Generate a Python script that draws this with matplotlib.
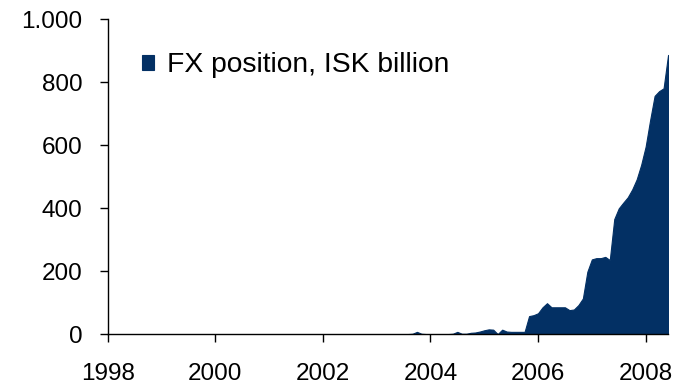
import matplotlib
matplotlib.use("Agg")
import matplotlib.pyplot as plt
from matplotlib.ticker import FuncFormatter
import numpy as np

plt.rcParams['font.family'] = ['Liberation Sans', 'DejaVu Sans']

# Monthly FX position, ISK billion (Jan 1998 - Jun 2008)
fx_1998 = [0, 0, 0, 0, 0, 0, 0, 0, 0, 0, 0, 0]
fx_1999 = [0, 0, 0, 0, 0, 0, 0, 0, 0, 0, 0, 0]
fx_2000 = [0, 0, 0, 0, 0, 0, 0, 0, 0, 0, 0, 0]
fx_2001 = [0, 0, 0, 0, 0, 0, 0, 0, 0, 0, 0, 0]
fx_2002 = [0, 0, 0, 0, 0, 0, 0, 0, 0, 0, 0, 0]
fx_2003 = [0, 0, 0, 0, 0, 0, 0, 0, 1, 7, 1, 0]
fx_2004 = [0, 0, 0, 0, 0, 1, 7, 1, 1, 4, 5, 8]
fx_2005 = [12, 15, 14, 0, 14, 8, 7, 7, 7, 7, 57, 60]
fx_2006 = [66, 85, 98, 85, 85, 85, 85, 76, 78, 92, 113, 198]
fx_2007 = [237, 241, 241, 245, 235, 365, 399, 417, 434, 459, 491, 537]
fx_2008 = [595, 679, 756, 771, 780, 886]

series = [fx_1998, fx_1999, fx_2000, fx_2001, fx_2002, fx_2003,
          fx_2004, fx_2005, fx_2006, fx_2007, fx_2008]
start_year = 1998
legend_label = "FX position, ISK billion"
x_ticks = [1998, 2000, 2002, 2004, 2006, 2008]
y_ticks = [0, 200, 400, 600, 800, 1000]

values = np.concatenate([np.array(s, dtype=float) for s in series])
dates = start_year + np.arange(len(values)) / 12.0

navy = "#033064"

fig = plt.figure(figsize=(6.81, 3.88), dpi=100)
ax = fig.add_axes([0.158, 0.139, 0.823, 0.812])

ax.fill_between(dates, 0, values, color=navy, linewidth=0.8, edgecolor=navy,
                label=legend_label)

ax.set_xlim(start_year, dates[-1])
ax.set_ylim(0, 1000)
ax.set_xticks(x_ticks)
ax.set_yticks(y_ticks)
ax.yaxis.set_major_formatter(FuncFormatter(lambda v, p: f"{int(v):,}".replace(",", ".")))

for side in ("top", "right"):
    ax.spines[side].set_visible(False)
for side in ("left", "bottom"):
    ax.spines[side].set_color("black")
    ax.spines[side].set_linewidth(1.0)

ax.tick_params(axis="both", direction="out", length=6, width=1, labelsize=17.5,
               colors="black")
ax.tick_params(axis="x", pad=15)
ax.tick_params(axis="y", pad=12)

ax.legend(loc="center left", bbox_to_anchor=(0.061, 0.853), frameon=False,
          fontsize=20.3, handlelength=0.43, handleheight=0.43, handletextpad=0.47,
          borderpad=0, borderaxespad=0)

fig.savefig("out.png", dpi=100, facecolor="white")
